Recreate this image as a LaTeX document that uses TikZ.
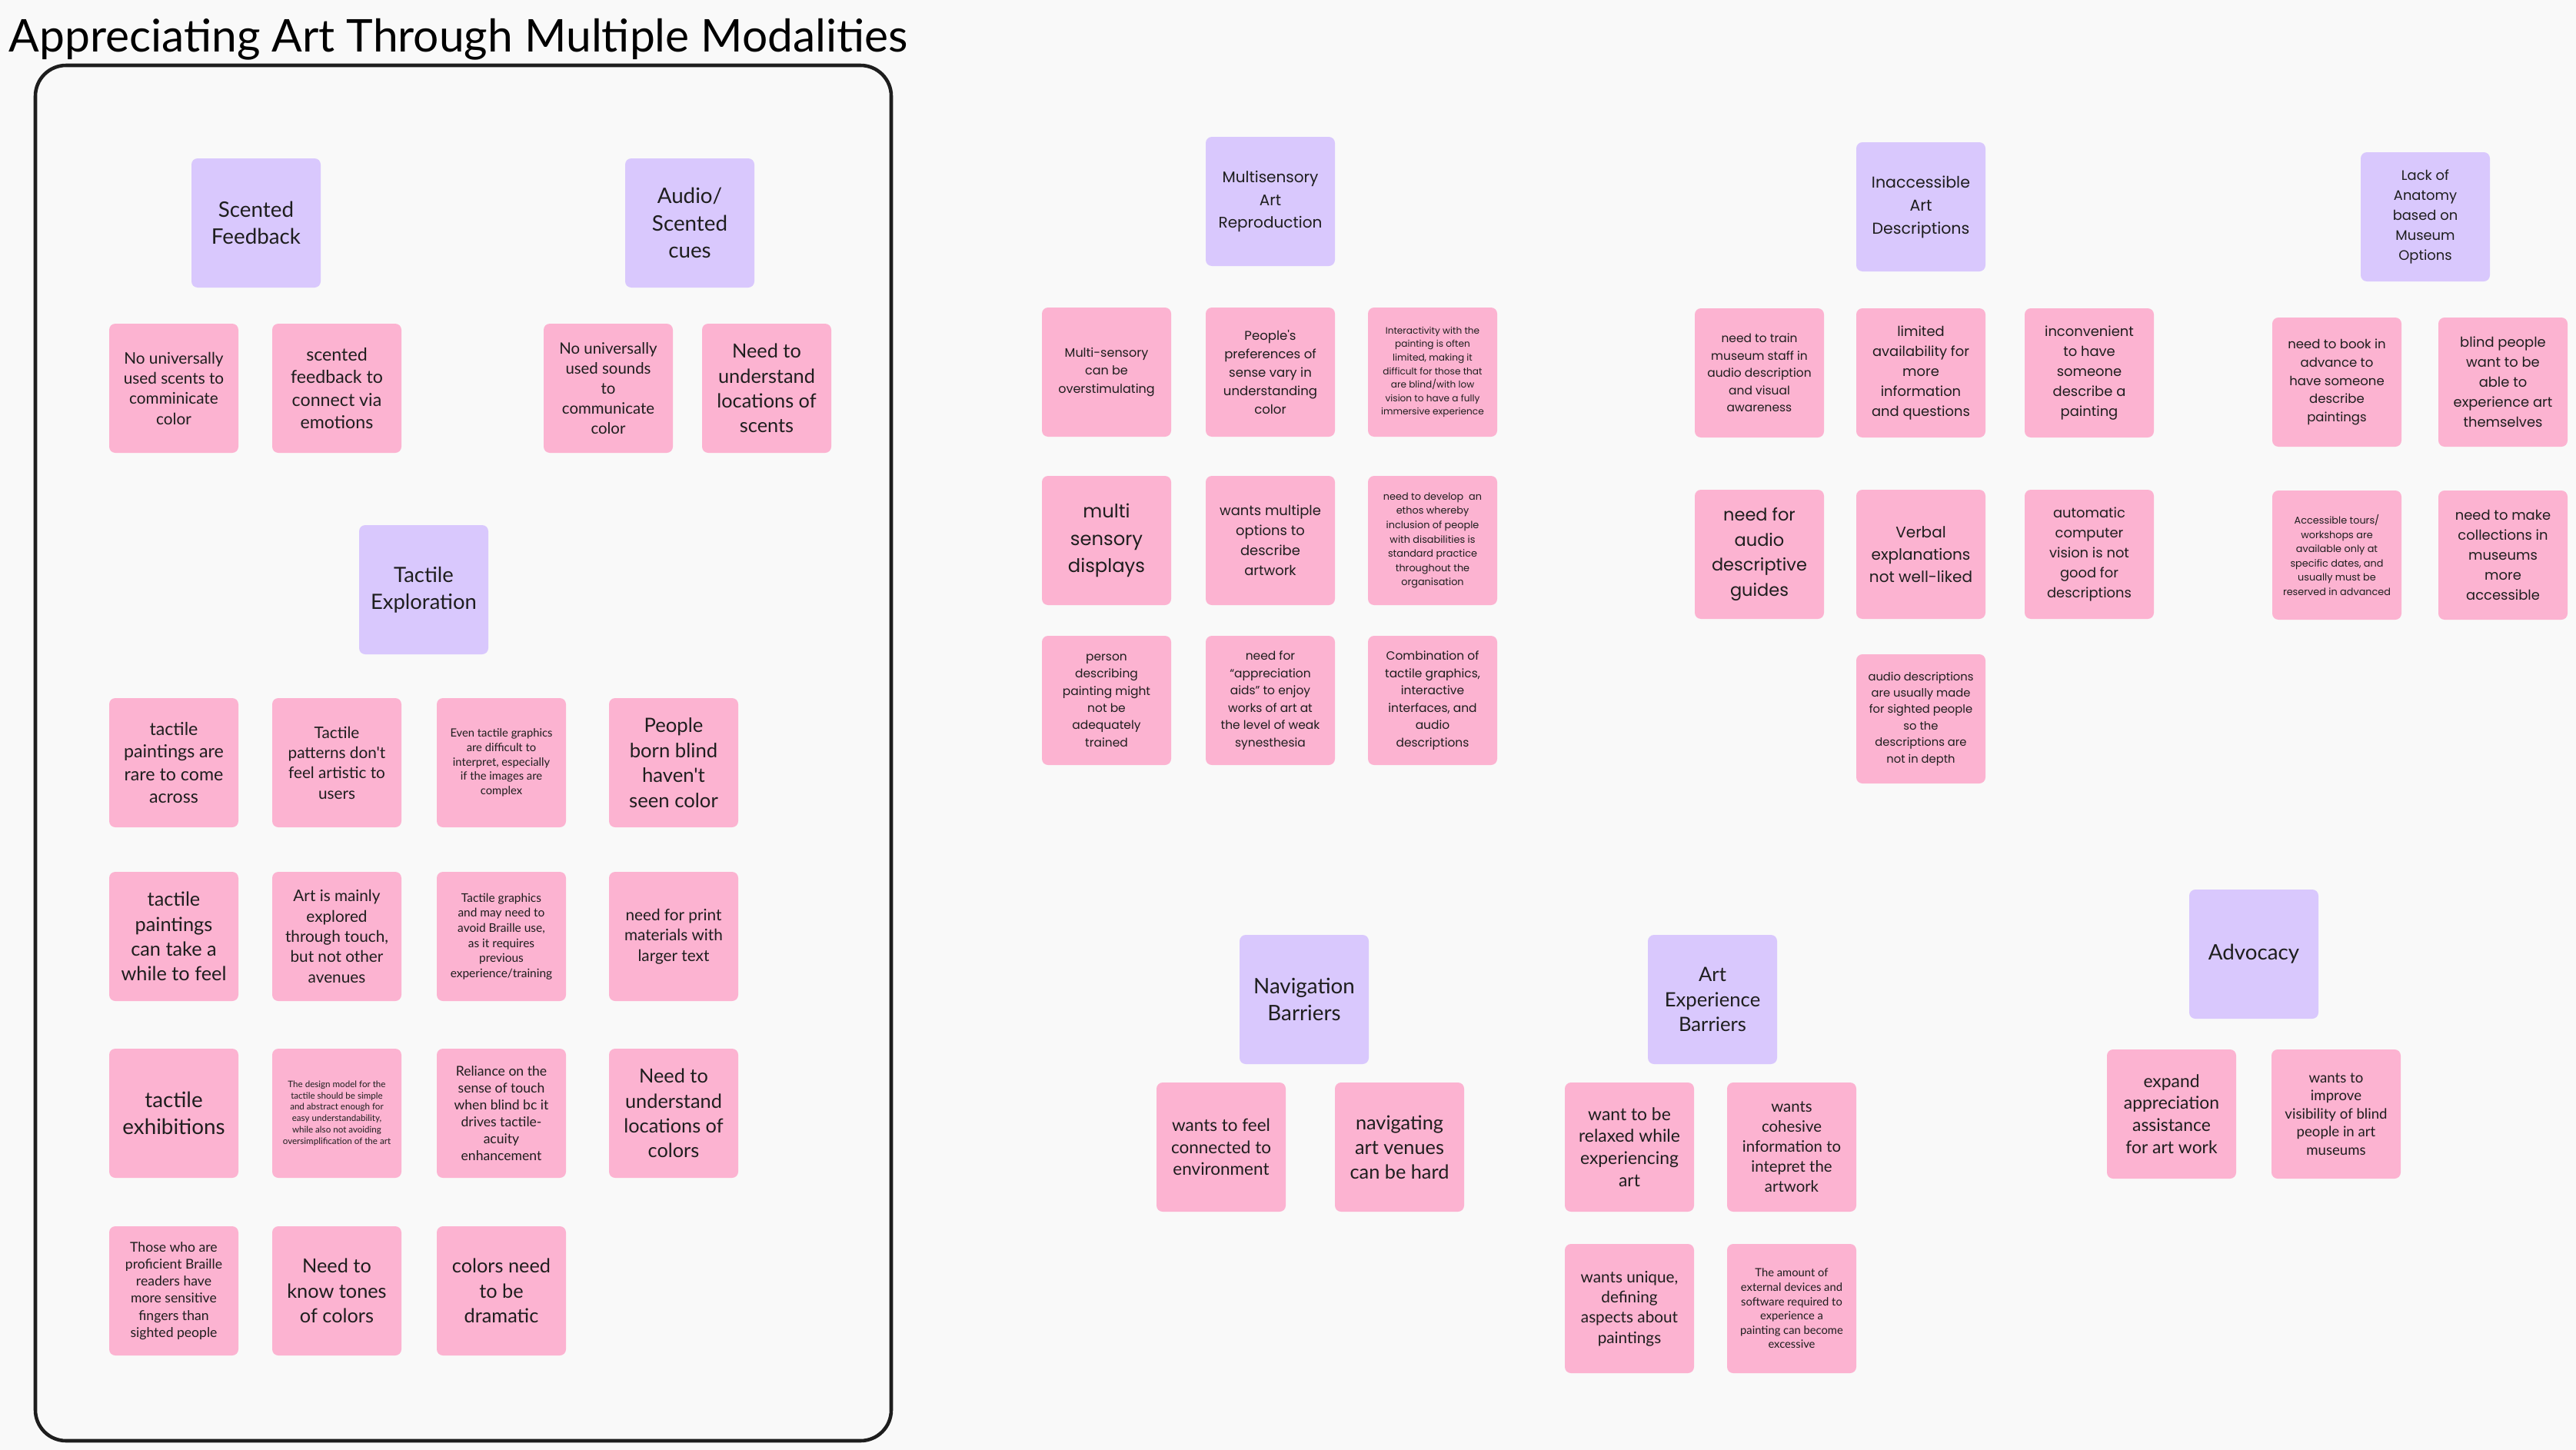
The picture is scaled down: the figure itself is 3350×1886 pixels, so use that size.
\documentclass[tikz,border=0pt]{standalone}
\usepackage{fontspec}
\usepackage{tikz}

\newfontfamily\notefont{Lato}
\newfontfamily\roundfont{Poppins}
\newcommand{\nf}[2]{\notefont\fontsize{#1pt}{#2pt}\selectfont}
\newcommand{\rf}[2]{\roundfont\fontsize{#1pt}{#2pt}\selectfont}

\definecolor{boardgray}{HTML}{F9F9F9}
\definecolor{stickypink}{HTML}{FCB3D1}
\definecolor{stickylilac}{HTML}{D9C8FD}
\definecolor{inkblack}{HTML}{1E1E1E}

\tikzset{
        card/.style={fill=stickypink, rounded corners=0.8mm, minimum width=16.8mm,
                minimum height=16.8mm, inner sep=0pt, align=center, text=inkblack},
        themecard/.style={card, fill=stickylilac},
        boardframe/.style={draw=inkblack, line width=1.3pt, rounded corners=4mm}
}

\begin{document}
\begin{tikzpicture}[x=0.1mm,y=-0.1mm]
        \useasboundingbox (0,0) rectangle (3350,1886);
        \fill[boardgray] (0,0) rectangle (3350,1886);

        \node[anchor=base west, inner sep=0pt, text=black, font=\nf{16.7}{20}] (title) at (11,67)
                {Appreciating Art Through Multiple Modalities};
        \draw[boardframe] (46,85) rectangle (1159,1874);

        % scents and sounds
        \node[themecard, font=\nf{7.9}{10}] (scent) at (333,290) {Scented\\Feedback};
        \node[themecard, font=\nf{7.9}{10}] (audio) at (897,290) {Audio/\\Scented\\cues};
        \node[card, font=\nf{5.9}{7.5}] (scentA) at (226,505) {No universally\\used scents to\\comminicate\\color};
        \node[card, font=\nf{6.6}{8.4}] (scentB) at (438,505) {scented\\feedback to\\connect via\\emotions};
        \node[card, font=\nf{5.8}{7.4}] (audioA) at (791,505) {No universally\\used sounds\\to\\communicate\\color};
        \node[card, font=\nf{7.2}{9.2}] (audioB) at (997,505) {Need to\\understand\\locations of\\scents};

        % touch
        \node[themecard, font=\nf{7.8}{9.9}] (tact) at (551,767) {Tactile\\Exploration};
        \node[card, font=\nf{6.6}{8.4}] (tactA) at (226,992) {tactile\\paintings are\\rare to come\\across};
        \node[card, font=\nf{5.9}{7.5}] (tactB) at (438,992) {Tactile\\patterns don't\\feel artistic to\\users};
        \node[card, font=\nf{4.2}{5.3}] (tactC) at (652,992) {Even tactile graphics\\are difficult to\\interpret, especially\\if the images are\\complex};
        \node[card, font=\nf{7.3}{9.3}] (tactD) at (876,992) {People\\born blind\\haven't\\seen color};
        \node[card, font=\nf{7.2}{9.2}] (tactE) at (226,1218) {tactile\\paintings\\can take a\\while to feel};
        \node[card, font=\nf{5.9}{7.5}] (tactF) at (438,1218) {Art is mainly\\explored\\through touch,\\but not other\\avenues};
        \node[card, font=\nf{4.4}{5.6}] (tactG) at (652,1218) {Tactile graphics\\and may need to\\avoid Braille use,\\as it requires\\previous\\experience/training};
        \node[card, font=\nf{5.9}{7.5}] (tactH) at (876,1218) {need for print\\materials with\\larger text};
        \node[card, font=\nf{7.9}{10}] (tactI) at (226,1448) {tactile\\exhibitions};
        \node[card, font=\nf{3.3}{4.2}] (tactJ) at (438,1448) {The design model for the\\tactile should be simple\\and abstract enough for\\easy understandability,\\while also not avoiding\\oversimplification of the art};
        \node[card, font=\nf{5.0}{6.3}] (tactK) at (652,1448) {Reliance on the\\sense of touch\\when blind bc it\\drives tactile-\\acuity\\enhancement};
        \node[card, font=\nf{7.2}{9.2}] (tactL) at (876,1448) {Need to\\understand\\locations of\\colors};
        \node[card, font=\nf{5.0}{6.3}] (tactM) at (226,1679) {Those who are\\proficient Braille\\readers have\\more sensitive\\fingers than\\sighted people};
        \node[card, font=\nf{7.2}{9.2}] (tactN) at (438,1679) {Need to\\know tones\\of colors};
        \node[card, font=\nf{7.2}{9.2}] (tactO) at (652,1679) {colors need\\to be\\dramatic};

        % multisensory
        \node[themecard, font=\rf{5.7}{8.3}] (multi) at (1652,262) {Multisensory\\Art\\Reproduction};
        \node[card, font=\rf{4.55}{6.6}] (multiA) at (1439,484) {Multi-sensory\\can be\\overstimulating};
        \node[card, font=\rf{4.7}{6.8}] (multiB) at (1652,484) {People's\\preferences of\\sense vary in\\understanding\\color};
        \node[card, font=\rf{3.45}{5}] (multiC) at (1863,484) {Interactivity with the\\painting is often\\limited, making it\\difficult for those that\\are blind/with low\\vision to have a fully\\immersive experience};
        \node[card, font=\rf{6.9}{10}] (multiD) at (1439,703) {multi\\sensory\\displays};
        \node[card, font=\rf{5.1}{7.4}] (multiE) at (1652,703) {wants multiple\\options to\\describe\\artwork};
        \node[card, font=\rf{3.65}{5.3}] (multiF) at (1863,703) {need to develop\ \ an\\ethos whereby\\inclusion of people\\with disabilities is\\standard practice\\throughout the\\organisation};
        \node[card, font=\rf{4.4}{6.4}] (multiG) at (1439,911) {person\\describing\\painting might\\not be\\adequately\\trained};
        \node[card, font=\rf{4.4}{6.4}] (multiH) at (1652,911) {need for\\“appreciation\\aids” to enjoy\\works of art at\\the level of weak\\synesthesia};
        \node[card, font=\rf{4.4}{6.4}] (multiI) at (1863,911) {Combination of\\tactile graphics,\\interactive\\interfaces, and\\audio\\descriptions};

        % descriptions
        \node[themecard, font=\rf{5.85}{8.5}] (inacc) at (2498,269) {Inaccessible\\Art\\Descriptions};
        \node[card, font=\rf{4.4}{6.4}] (inaccA) at (2288,485) {need to train\\museum staff in\\audio description\\and visual\\awareness};
        \node[card, font=\rf{5.1}{7.4}] (inaccB) at (2498,485) {limited\\availability for\\more\\information\\and questions};
        \node[card, font=\rf{5.1}{7.4}] (inaccC) at (2717,485) {inconvenient\\to have\\someone\\describe a\\painting};
        \node[card, font=\rf{6.4}{9.3}] (inaccD) at (2288,721) {need for\\audio\\descriptive\\guides};
        \node[card, font=\rf{5.7}{8.3}] (inaccE) at (2498,721) {Verbal\\explanations\\not well-liked};
        \node[card, font=\rf{5.1}{7.4}] (inaccF) at (2717,721) {automatic\\computer\\vision is not\\good for\\descriptions};
        \node[card, font=\rf{4.2}{6.1}] (inaccG) at (2498,935) {audio descriptions\\are usually made\\for sighted people\\so the\\descriptions are\\not in depth};

        % museum options
        \node[themecard, font=\rf{5.1}{7.4}] (lack) at (3154,282) {Lack of\\Anatomy\\based on\\Museum\\Options};
        \node[card, font=\rf{4.7}{6.8}] (lackA) at (3039,497) {need to book in\\advance to\\have someone\\describe\\paintings};
        \node[card, font=\rf{5.1}{7.4}] (lackB) at (3255,497) {blind people\\want to be\\able to\\experience art\\themselves};
        \node[card, font=\rf{3.65}{5.3}] (lackC) at (3039,722) {Accessible tours/\\workshops are\\available only at\\specific dates, and\\usually must be\\reserved in advanced};
        \node[card, font=\rf{5.1}{7.4}] (lackD) at (3255,722) {need to make\\collections in\\museums\\more\\accessible};

        % navigation
        \node[themecard, font=\nf{7.9}{10}] (nav) at (1696,1300) {Navigation\\Barriers};
        \node[card, font=\nf{6.4}{8.1}] (navA) at (1588,1492) {wants to feel\\connected to\\environment};
        \node[card, font=\nf{7.2}{9.1}] (navB) at (1820,1492) {navigating\\art venues\\can be hard};

        % art experience
        \node[themecard, font=\nf{7.3}{9.3}] (artexp) at (2227,1300) {Art\\Experience\\Barriers};
        \node[card, font=\nf{6.5}{8.2}] (artexpA) at (2119,1492) {want to be\\relaxed while\\experiencing\\art};
        \node[card, font=\nf{5.8}{7.4}] (artexpB) at (2330,1492) {wants\\cohesive\\information to\\intepret the\\artwork};
        \node[card, font=\nf{5.9}{7.5}] (artexpC) at (2119,1702) {wants unique,\\defining\\aspects about\\paintings};
        \node[card, font=\nf{4.2}{5.3}] (artexpD) at (2330,1702) {The amount of\\external devices and\\software required to\\experience a\\painting can become\\excessive};

        % advocacy
        \node[themecard, font=\nf{7.9}{10}] (advo) at (2931,1241) {Advocacy};
        \node[card, font=\nf{6.5}{8.2}] (advoA) at (2824,1449) {expand\\appreciation\\assistance\\for art work};
        \node[card, font=\nf{5.3}{6.7}] (advoB) at (3038,1449) {wants to\\improve\\visibility of blind\\people in art\\museums};
\end{tikzpicture}
\end{document}
